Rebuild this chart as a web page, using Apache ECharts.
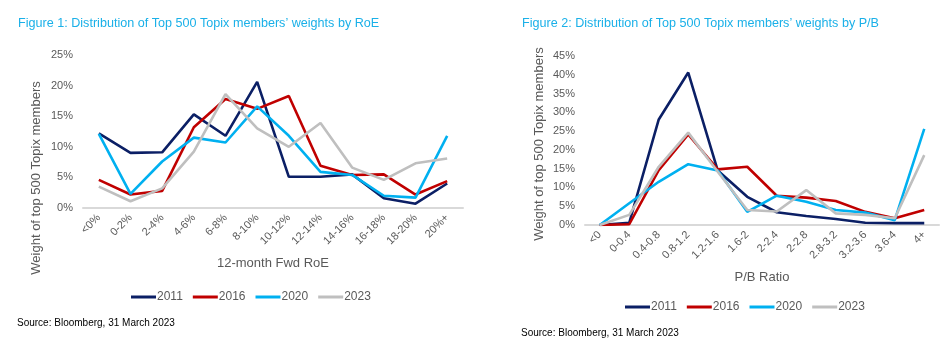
<!DOCTYPE html>
<html><head><meta charset="utf-8">
<script src="https://cdn.jsdelivr.net/npm/echarts@6/dist/echarts.min.js"></script>
<style>html,body{margin:0;padding:0;background:#fff}#c{width:941px;height:353px}</style>
</head><body><div id="c"></div>
<script>
const roeCategories = ['<0%','0-2%','2-4%','4-6%','6-8%','8-10%','10-12%','12-14%','14-16%','16-18%','18-20%','20%+'];
const roe2011 = [12.2, 9.0, 9.1, 15.3, 11.8, 20.6, 5.1, 5.1, 5.5, 1.6, 0.7, 4.0];
const roe2016 = [4.6, 2.2, 2.8, 13.2, 17.8, 16.2, 18.3, 6.9, 5.4, 5.5, 2.2, 4.4];
const roe2020 = [12.1, 2.3, 7.6, 11.5, 10.7, 16.6, 11.8, 5.9, 5.4, 2.0, 1.7, 11.8];
const roe2023 = [3.5, 1.1, 3.2, 9.2, 18.6, 13.0, 10.0, 13.9, 6.6, 4.6, 7.3, 8.1];

const pbCategories = ['<0','0-0.4','0.4-0.8','0.8-1.2','1.2-1.6','1.6-2','2-2.4','2-2.8','2.8-3.2','3.2-3.6','3.6-4','4+'];
const pb2011 = [0, 0.6, 28.1, 40.6, 14.5, 7.5, 3.4, 2.4, 1.6, 0.6, 0.5, 0.5];
const pb2016 = [0, 0.2, 14.6, 24.1, 14.8, 15.5, 7.8, 7.3, 6.4, 3.5, 1.8, 4.0];
const pb2020 = [0, 5.8, 11.5, 16.2, 14.5, 3.5, 7.8, 6.2, 4.0, 3.3, 1.3, 25.6];
const pb2023 = [0, 2.7, 15.5, 24.6, 14.2, 4.0, 3.6, 9.3, 3.1, 2.7, 1.8, 18.6];

const years = ['2011','2016','2020','2023'];
const colors = ['#0B1F65','#C00000','#00B0F0','#BFBFBF'];

const chart = echarts.init(document.getElementById('c'));
const font = 'Liberation Sans, Arial, sans-serif';
const grey = '#595959';

function xAxis(gi, cats, name, nameGap) {
  return {
    type: 'category', gridIndex: gi, data: cats, boundaryGap: true,
    axisLine: {lineStyle: {color: '#D9D9D9', width: 2}},
    axisTick: {show: false},
    axisLabel: {rotate: 45, color: grey, fontFamily: font, fontSize: 11, interval: 0, margin: 8},
    name: name, nameLocation: 'middle', nameGap: nameGap,
    nameTextStyle: {color: grey, fontFamily: font, fontSize: 13}
  };
}
function yAxis(gi, max) {
  return {
    type: 'value', gridIndex: gi, min: 0, max: max, interval: 5,
    axisLine: {show: false}, axisTick: {show: false}, splitLine: {show: false},
    axisLabel: {formatter: '{value}%', color: grey, fontFamily: font, fontSize: 11, margin: 10}
  };
}
function mk(name, data, xi, idx) {
  return {name: name, type: 'line', xAxisIndex: xi, yAxisIndex: xi, data: data,
    symbol: 'none', lineStyle: {width: 2.6, color: colors[idx]}, itemStyle: {color: colors[idx]}};
}
function legend(left, top) {
  return {data: years, left: left, top: top, icon: 'rect', itemWidth: 25, itemHeight: 3,
    itemGap: 10, textStyle: {color: grey, fontFamily: font, fontSize: 12, padding: [0,0,0,-4]}};
}

chart.setOption({
  animation: false,
  grid: [
    {left: 83, top: 55, width: 380, height: 153},
    {left: 585, top: 56, width: 354, height: 169}
  ],
  xAxis: [xAxis(0, roeCategories, '12-month Fwd RoE', 49), xAxis(1, pbCategories, 'P/B Ratio', 46)],
  yAxis: [yAxis(0, 25), yAxis(1, 45)],
  legend: [legend(126, 286), legend(620, 296)],
  series: [
    mk('2011', roe2011, 0, 0), mk('2016', roe2016, 0, 1), mk('2020', roe2020, 0, 2), mk('2023', roe2023, 0, 3),
    mk('2011', pb2011, 1, 0), mk('2016', pb2016, 1, 1), mk('2020', pb2020, 1, 2), mk('2023', pb2023, 1, 3)
  ],
  graphic: [
    {type: 'text', left: 18, top: 17, style: {text: 'Figure 1: Distribution of Top 500 Topix members’ weights by RoE', fill: '#1AB0E8', font: '12.6px ' + font}},
    {type: 'text', left: 522, top: 17, style: {text: 'Figure 2: Distribution of Top 500 Topix members’ weights by P/B', fill: '#1AB0E8', font: '12.6px ' + font}},
    {type: 'text', x: 36, y: 178, rotation: Math.PI/2, style: {text: 'Weight of top 500 Topix members', fill: grey, font: '13px ' + font, align: 'center', verticalAlign: 'middle'}},
    {type: 'text', x: 539, y: 144, rotation: Math.PI/2, style: {text: 'Weight of top 500 Topix members', fill: grey, font: '13px ' + font, align: 'center', verticalAlign: 'middle'}},
    {type: 'text', left: 17, top: 318, style: {text: 'Source: Bloomberg, 31 March 2023', fill: '#000', font: '10px ' + font}},
    {type: 'text', left: 521, top: 328, style: {text: 'Source: Bloomberg, 31 March 2023', fill: '#000', font: '10px ' + font}}
  ]
});
</script></body></html>
